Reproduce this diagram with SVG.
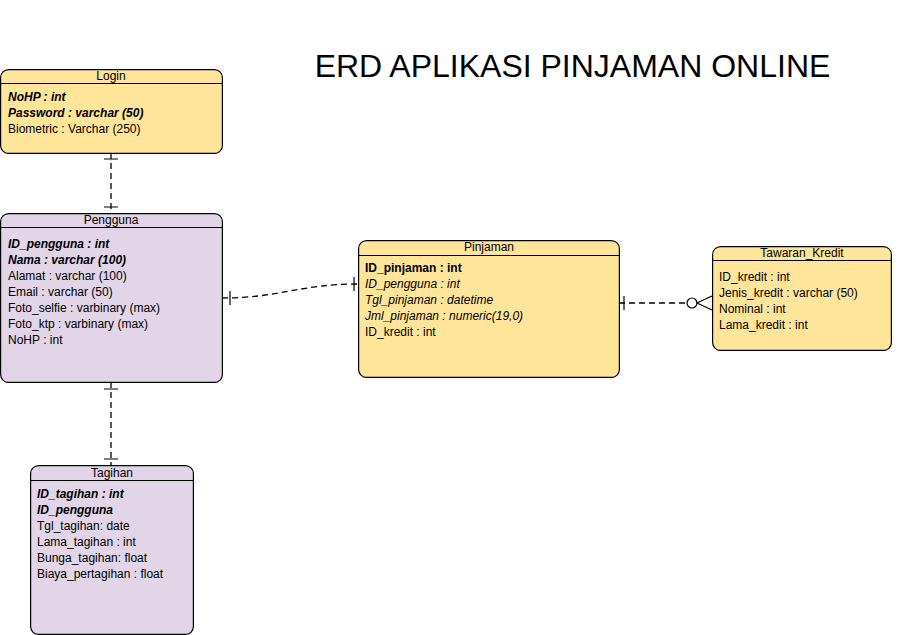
<svg xmlns="http://www.w3.org/2000/svg" width="899" height="635" viewBox="0 0 899 635">
<style>
text{font-family:"Liberation Sans",Arial,sans-serif;font-size:12px;fill:#000}
.t{text-anchor:middle}
.bi{font-weight:bold;font-style:italic}
.b{font-weight:bold}
.i{font-style:italic}
.y{fill:#ffe599;stroke:#000;stroke-width:1.2}
.p{fill:#e1d5e7;stroke:#000;stroke-width:1.2}
.hl{stroke:#000;stroke-width:1}
.c{fill:none;stroke:#000;stroke-width:1.3;stroke-dasharray:6 4}
.m{fill:none;stroke:#000;stroke-width:1.2}
</style>
<rect width="899" height="635" fill="#fff"/>
<text x="572.5" y="77" class="t" style="font-size:32px">ERD APLIKASI PINJAMAN ONLINE</text>
<g id="connectors">
<path class="c" d="M111 153 V213"/>
<path class="m" d="M104 159 H118 M104 207 H118"/>
<path class="c" d="M111 382 V465"/>
<path class="m" d="M104 389 H118 M104 459 H118"/>
<path class="c" d="M222 298 C280 298 300 284 358 284"/>
<path class="m" d="M230 291 V305 M354 277 V291"/>
<path class="c" d="M619 303 H687"/>
<path class="m" d="M624 296 V310"/>
<circle cx="692" cy="303" r="5" fill="#fff" stroke="#000" stroke-width="1.2"/>
<path class="m" d="M712 296 L697 303 L712 310"/>
</g>
<g id="login">
<rect class="y" x="0.6" y="69.6" width="221.8" height="83.8" rx="8"/>
<line class="hl" x1="0.6" y1="83.5" x2="222.4" y2="83.5"/>
<text x="111" y="80" class="t">Login</text>
<text x="8" y="101" class="bi">NoHP : int</text>
<text x="8" y="117" class="bi">Password : varchar (50)</text>
<text x="8" y="133">Biometric : Varchar (250)</text>
</g>
<g id="pengguna">
<rect class="p" x="0.6" y="213.6" width="221.8" height="168.8" rx="8"/>
<line class="hl" x1="0.6" y1="227.5" x2="222.4" y2="227.5"/>
<text x="111" y="224" class="t">Pengguna</text>
<text x="8" y="248" class="bi">ID_pengguna : int</text>
<text x="8" y="264" class="bi">Nama : varchar (100)</text>
<text x="8" y="280">Alamat : varchar (100)</text>
<text x="8" y="296">Email : varchar (50)</text>
<text x="8" y="312">Foto_selfie : varbinary (max)</text>
<text x="8" y="328">Foto_ktp : varbinary (max)</text>
<text x="8" y="344">NoHP : int</text>
</g>
<g id="tagihan">
<rect class="p" x="30.6" y="465.6" width="162.8" height="168.8" rx="8"/>
<line class="hl" x1="30.6" y1="480.5" x2="193.4" y2="480.5"/>
<text x="112" y="477" class="t">Tagihan</text>
<text x="37" y="498" class="bi">ID_tagihan : int</text>
<text x="37" y="514" class="bi">ID_pengguna</text>
<text x="37" y="530">Tgl_tagihan: date</text>
<text x="37" y="546">Lama_tagihan : int</text>
<text x="37" y="562">Bunga_tagihan: float</text>
<text x="37" y="578">Biaya_pertagihan : float</text>
</g>
<g id="pinjaman">
<rect class="y" x="358.6" y="240.6" width="260.8" height="136.8" rx="8"/>
<line class="hl" x1="358.6" y1="255.5" x2="619.4" y2="255.5"/>
<text x="489" y="251" class="t">Pinjaman</text>
<text x="365" y="272" class="b">ID_pinjaman : int</text>
<text x="365" y="288" class="i">ID_pengguna : int</text>
<text x="365" y="304" class="i">Tgl_pinjaman : datetime</text>
<text x="365" y="320" class="i">Jml_pinjaman : numeric(19,0)</text>
<text x="365" y="336">ID_kredit : int</text>
</g>
<g id="tawaran_kredit">
<rect class="y" x="712.6" y="246.6" width="178.8" height="103.8" rx="8"/>
<line class="hl" x1="712.6" y1="260.5" x2="891.4" y2="260.5"/>
<text x="802" y="257" class="t">Tawaran_Kredit</text>
<text x="719" y="281">ID_kredit : int</text>
<text x="719" y="297">Jenis_kredit : varchar (50)</text>
<text x="719" y="313">Nominal : int</text>
<text x="719" y="329">Lama_kredit : int</text>
</g>
</svg>
